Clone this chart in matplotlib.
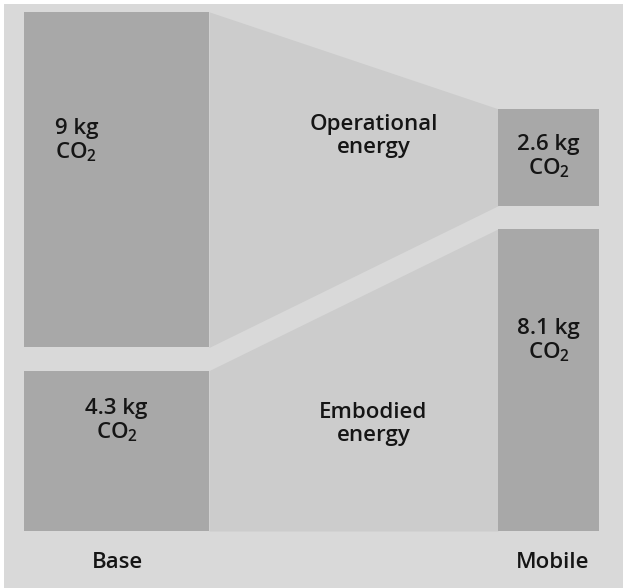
import numpy as np
import matplotlib
matplotlib.use('Agg')
import matplotlib.pyplot as plt

# data (kg CO2)
categories = ['Base', 'Mobile']
embodied = np.array([4.3, 8.1])
operational = np.array([9, 2.6])
band_labels = ['Operational\nenergy', 'Embodied\nenergy']

# style / layout
bar_x = np.array([116.5, 548.5])
bar_w = np.array([185, 101])
gap = 0.62
bg = '#d9d9d9'
bar_c = '#a8a8a8'
band_c = '#cccccc'

plt.rcParams['font.family'] = ['Open Sans', 'DejaVu Sans']
plt.rcParams['mathtext.default'] = 'regular'

fig = plt.figure(figsize=(6.23, 5.88), dpi=100)
fig.patch.set_facecolor('white')
ax = fig.add_axes([4 / 623, 0, 619 / 623, 584 / 588])
ax.set_facecolor(bg)
scale = 37.3
ax.set_xlim(4, 623)
ax.set_ylim(-57 / scale, (531 - 4) / scale)
ax.axis('off')
ax.add_patch(plt.Rectangle((0, 0), 1, 1, transform=ax.transAxes, color=bg, zorder=0))

op_bottom = embodied + gap
op_top = op_bottom + operational

# connecting bands
xr = bar_x[0] + bar_w[0] / 2
xl = bar_x[1] - bar_w[1] / 2
ax.fill_between([xr, xl], [op_bottom[0], op_bottom[1]], [op_top[0], op_top[1]],
                color=band_c, lw=0, zorder=1)
ax.fill_between([xr, xl], [0, 0], [embodied[0], embodied[1]],
                color=band_c, lw=0, zorder=1)

# bars
ax.bar(bar_x, embodied, width=bar_w, color=bar_c, zorder=2)
ax.bar(bar_x, operational, bottom=op_bottom, width=bar_w, color=bar_c, zorder=2)

tkw = dict(fontsize=16, fontweight='semibold', color='#151515', zorder=3,
           linespacing=1.08)

def fmt(v):
    return f'{v:g} kg\nCO$_2$'

# operational labels
ax.text(55, (531 - 141) / scale, fmt(operational[0]), ha='left', va='center', **tkw)
ax.text(bar_x[1], (op_bottom[1] + op_top[1]) / 2, fmt(operational[1]),
        ha='center', va='center', **tkw)
# embodied labels
ax.text(bar_x[0], (531 - 421) / scale, fmt(embodied[0]), ha='center', va='center', **tkw)
ax.text(bar_x[1], (531 - 341) / scale, fmt(embodied[1]), ha='center', va='center', **tkw)

# band labels
mid = (xr + xl) / 2 + 20
ax.text(mid, (531 - 136) / scale, band_labels[0], ha='center', va='center', **tkw)
ax.text(mid, (531 - 424) / scale, band_labels[1], ha='center', va='center', **tkw)

# category labels
for x, c in zip(bar_x + np.array([1, 4]), categories):
    ax.text(x, -32 / scale, c, ha='center', va='center', **tkw)

fig.savefig('out.png', dpi=100, facecolor='white')
